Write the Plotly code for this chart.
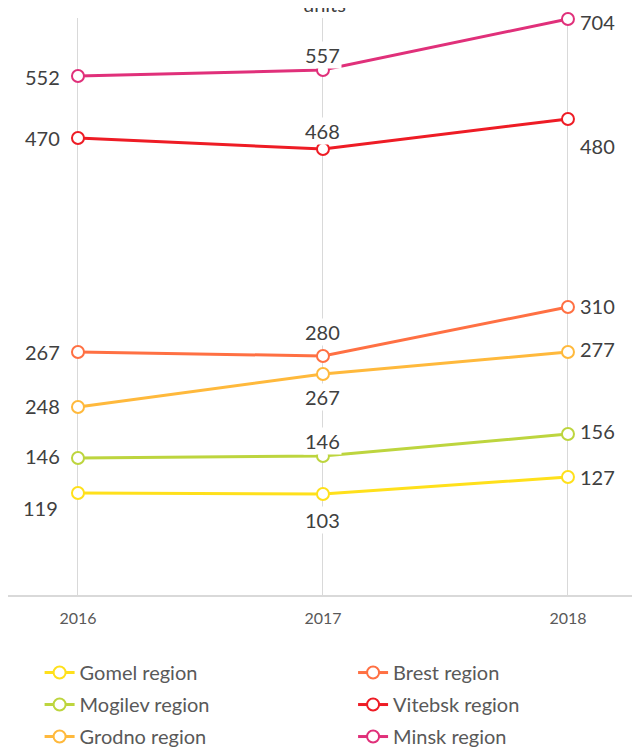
import plotly.graph_objects as go

# ---------------- data ----------------
years = ["2016", "2017", "2018"]

# plotted positions (chart scale)
gomel_y = [102, 101, 118]
mogilev_y = [137, 139, 161]
grodno_y = [188, 221, 243]
brest_y = [243, 239, 288]
vitebsk_y = [457, 446, 476]
minsk_y = [519, 525, 576]

# value labels shown next to the points
gomel_lbl = [119, 103, 127]
mogilev_lbl = [146, 146, 156]
grodno_lbl = [248, 267, 277]
brest_lbl = [267, 280, 310]
vitebsk_lbl = [470, 468, 480]
minsk_lbl = [552, 557, 704]

series_names = ["Gomel region", "Mogilev region", "Grodno region",
                "Brest region", "Vitebsk region", "Minsk region"]

title_text = "units"

# ---------------- styles ----------------
series = {
    "Gomel region": (gomel_y, gomel_lbl, "#FFE01B", "legend"),
    "Mogilev region": (mogilev_y, mogilev_lbl, "#BDD53E", "legend"),
    "Grodno region": (grodno_y, grodno_lbl, "#FFB93C", "legend"),
    "Brest region": (brest_y, brest_lbl, "#FF7043", "legend2"),
    "Vitebsk region": (vitebsk_y, vitebsk_lbl, "#EE1C25", "legend2"),
    "Minsk region": (minsk_y, minsk_lbl, "#E0307A", "legend2"),
}

# label placement per point: (xanchor, xshift, yshift)
placement = {
    "Gomel region": [("right", -18, -15), ("center", 0, -26), ("left", 10, 0)],
    "Mogilev region": [("right", -16, 2), ("center", 0, 15), ("left", 10, 3)],
    "Grodno region": [("right", -16, 1), ("center", 0, -23), ("left", 10, 3)],
    "Brest region": [("right", -16, 0), ("center", 0, 24), ("left", 10, 1)],
    "Vitebsk region": [("right", -16, 0), ("center", 0, 18), ("left", 10, -27)],
    "Minsk region": [("right", -16, -1), ("center", 0, 15), ("left", 10, -3)],
}

FONT = "Lato, 'Open Sans', sans-serif"

fig = go.Figure()
for name in series_names:
    ys, lbls, col, leg = series[name]
    fig.add_trace(go.Scatter(
        x=years, y=ys, name=name, mode="lines+markers",
        line=dict(color=col, width=3),
        marker=dict(symbol="circle", size=12, color="white",
                    line=dict(color=col, width=2)),
        cliponaxis=False, legend=leg, legendgroup=name,
    ))
    for i, (yv, lb) in enumerate(zip(ys, lbls)):
        xa, xs, yshift = placement[name][i]
        fig.add_annotation(
            x=i, y=yv, xref="x", yref="y", text=str(lb), showarrow=False,
            xanchor=xa, yanchor="middle", xshift=xs, yshift=yshift,
            font=dict(family=FONT, size=20, color="#404040"),
            bgcolor="white", borderpad=1,
        )

fig.add_annotation(
    x=0.5, y=1.0243, xref="paper", yref="paper", text=title_text,
    showarrow=False, xanchor="center", yanchor="middle",
    font=dict(family=FONT, size=20, color="#404040"),
)

legend_common = dict(
    orientation="v", yref="container", yanchor="top", y=0.1365, xanchor="left",
    font=dict(family=FONT, size=20, color="#595959"),
    traceorder="grouped", tracegroupgap=3, itemwidth=30,
    bgcolor="rgba(0,0,0,0)",
)

fig.update_layout(
    width=640, height=747,
    margin=dict(l=0, r=8, t=10, b=160),
    paper_bgcolor="white", plot_bgcolor="white",
    xaxis=dict(type="category", range=[-0.2857, 2.294],
               showgrid=True, gridcolor="#D9D9D9", gridwidth=1,
               showline=True, linecolor="#D9D9D9", linewidth=2,
               ticks="", zeroline=False, ticklabelstandoff=8,
               tickfont=dict(family=FONT, size=16, color="#595959")),
    yaxis=dict(range=[0, 577], visible=False, showgrid=False, zeroline=False),
    showlegend=True,
    legend=dict(x=0.05, **legend_common),
    legend2=dict(x=0.546, **legend_common),
)

fig.write_html("out.html")
